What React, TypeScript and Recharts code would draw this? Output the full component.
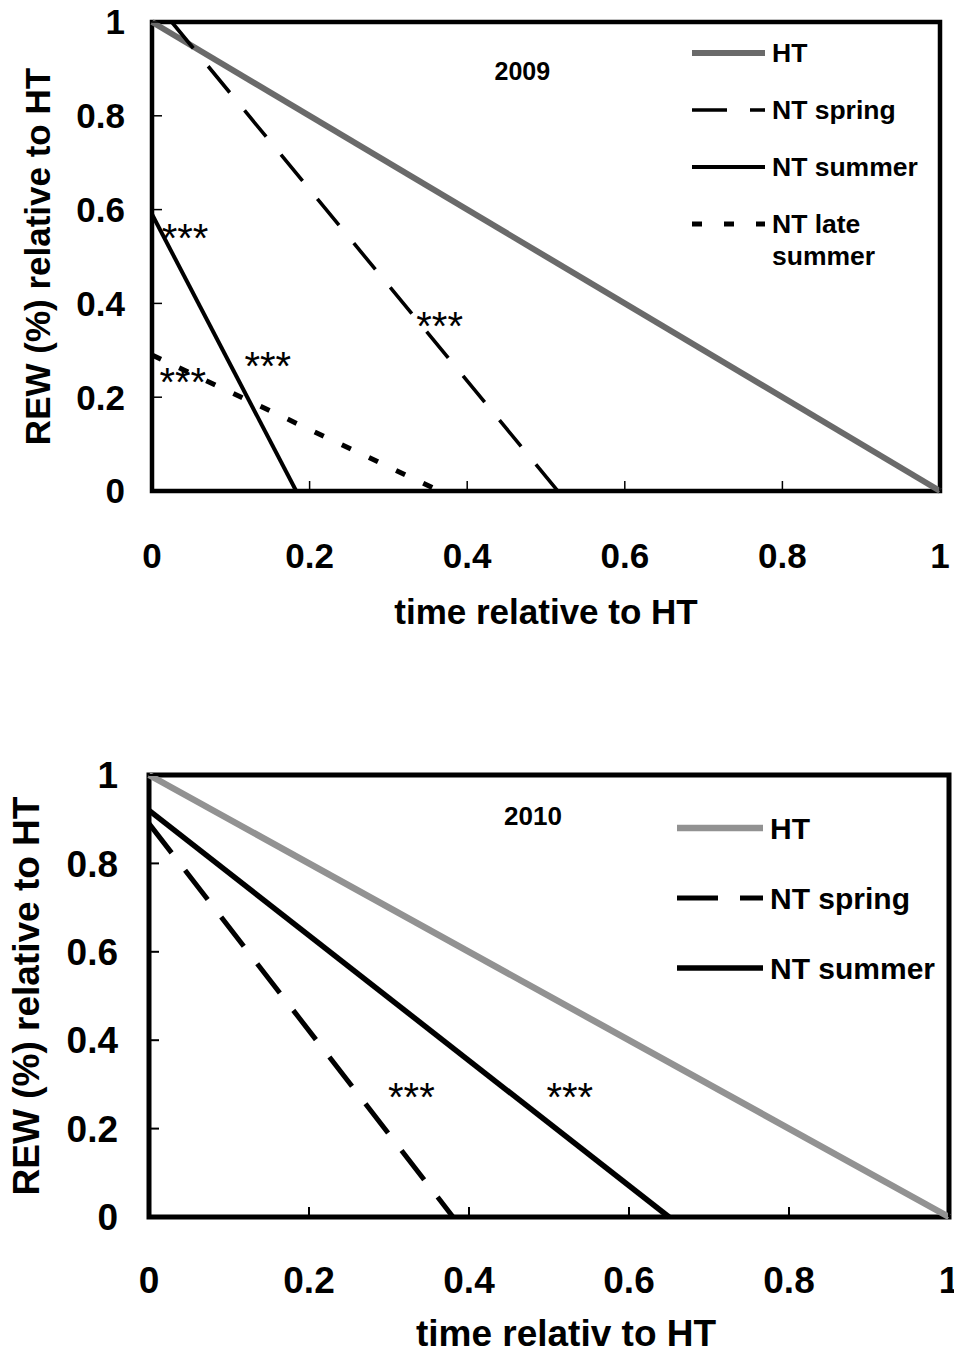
import React from "react";
import {
  LineChart,
  Line,
  XAxis,
  YAxis,
  Legend,
  ReferenceArea,
  ReferenceDot,
} from "recharts";

const FONT = "'Liberation Sans', Arial, Helvetica, sans-serif";

const xTicks = [0, 0.2, 0.4, 0.6, 0.8, 1];
const yTicks = [0, 0.2, 0.4, 0.6, 0.8, 1];

// 2009 panel
const ht2009 = [
  { t: 0, rew: 1 },
  { t: 1, rew: 0 },
];
const spring2009 = [
  { t: 0.025, rew: 1 },
  { t: 0.515, rew: 0 },
];
const summer2009 = [
  { t: 0, rew: 0.59 },
  { t: 0.183, rew: 0 },
];
const lateSummer2009 = [
  { t: 0, rew: 0.29 },
  { t: 0.365, rew: 0 },
];
const stars2009 = [
  { t: 0.042, rew: 0.559 },
  { t: 0.147, rew: 0.286 },
  { t: 0.365, rew: 0.371 },
  { t: 0.039, rew: 0.252 },
];

// 2010 panel
const ht2010 = [
  { t: 0, rew: 1 },
  { t: 1, rew: 0 },
];
const spring2010 = [
  { t: 0, rew: 0.89 },
  { t: 0.38, rew: 0 },
];
const summer2010 = [
  { t: 0, rew: 0.92 },
  { t: 0.65, rew: 0 },
];
const stars2010 = [
  { t: 0.328, rew: 0.292 },
  { t: 0.526, rew: 0.292 },
];

type Series = {
  name: string;
  label: string[];
  data: { t: number; rew: number }[];
  stroke: string;
  width: number;
  dash?: string;
  legendDash?: string;
};

const series2009: Series[] = [
  { name: "HT", label: ["HT"], data: ht2009, stroke: "#6a6a6a", width: 6 },
  {
    name: "NT spring",
    label: ["NT spring"],
    data: spring2009,
    stroke: "#000",
    width: 3.6,
    dash: "34 23.3",
    legendDash: "35 23",
  },
  { name: "NT summer", label: ["NT summer"], data: summer2009, stroke: "#000", width: 4 },
  {
    name: "NT late summer",
    label: ["NT late", "summer"],
    data: lateSummer2009,
    stroke: "#000",
    width: 5,
    dash: "10 20",
    legendDash: "10 22",
  },
];

const series2010: Series[] = [
  { name: "HT", label: ["HT"], data: ht2010, stroke: "#929292", width: 6.5 },
  {
    name: "NT spring",
    label: ["NT spring"],
    data: spring2010,
    stroke: "#000",
    width: 5,
    dash: "37 22",
    legendDash: "41 22",
  },
  { name: "NT summer", label: ["NT summer"], data: summer2010, stroke: "#000", width: 5.5 },
];

const makeLegend =
  (items: Series[], sampleW: number, pitch: number, fontSize: number) => () =>
    (
      <svg width={300} height={280} style={{ overflow: "visible" }}>
        {items.map((s, i) => {
          const y = 28 + i * pitch;
          return (
            <g key={s.name}>
              <line
                x1={0}
                x2={sampleW}
                y1={y}
                y2={y}
                stroke={s.stroke}
                strokeWidth={s.width}
                strokeDasharray={s.legendDash}
              />
              {s.label.map((l, j) => (
                <text
                  key={l}
                  x={sampleW + 7}
                  y={y + j * 32}
                  dominantBaseline="central"
                  fontSize={fontSize}
                  fontWeight="bold"
                  fontFamily={FONT}
                  fill="#000"
                >
                  {l}
                </text>
              ))}
            </g>
          );
        })}
      </svg>
    );

const starShape = (fontSize: number) => (props: any) =>
  (
    <text
      x={props.cx}
      y={props.cy + 0.23 * fontSize}
      textAnchor="middle"
      dominantBaseline="central"
      fontSize={fontSize}
      fontFamily={FONT}
      fill="#000"
    >
      ***
    </text>
  );

const yearShape = (text: string, fontSize: number) => (props: any) =>
  (
    <text
      x={props.cx}
      y={props.cy}
      textAnchor="middle"
      dominantBaseline="central"
      fontSize={fontSize}
      fontWeight="bold"
      fontFamily={FONT}
      fill="#000"
    >
      {text}
    </text>
  );

type PanelProps = {
  top: number;
  height: number;
  margin: { top: number; right: number; bottom: number; left: number };
  yAxisWidth: number;
  series: Series[];
  stars: { t: number; rew: number }[];
  starFont: number;
  year: string;
  yearFont: number;
  yearPos: { t: number; rew: number };
  xTitle: string;
  xTitleDx: number;
  xTitleDy: number;
  yTitleX: number;
  tickFont: number;
  titleFont: number;
  legendFont: number;
  legendPos: { left: number; top: number };
  legendSampleW: number;
  legendPitch: number;
  xTickMargin: number;
  yTickMargin: number;
  frameWidth: number;
  tickWidth: number;
};

const Panel = (p: PanelProps) => {
  const tickStyle = {
    fontSize: p.tickFont,
    fontWeight: "bold",
    fill: "#000",
    fontFamily: FONT,
  };
  return (
    <div style={{ position: "absolute", left: 0, top: p.top }}>
      <LineChart width={954} height={p.height} margin={p.margin}>
        <XAxis
          type="number"
          dataKey="t"
          domain={[0, 1]}
          ticks={xTicks}
          tickFormatter={(v) => String(v)}
          axisLine={false}
          tickSize={-10}
          tickMargin={p.xTickMargin}
          tickLine={{ stroke: "#000", strokeWidth: p.tickWidth }}
          tick={tickStyle}
          height={100}
          interval={0}
          label={{
            content: ({ viewBox }: any) => (
              <text
                x={viewBox.x + viewBox.width / 2 + p.xTitleDx}
                y={viewBox.y + p.xTitleDy}
                textAnchor="middle"
                fontSize={p.titleFont}
                fontWeight="bold"
                fontFamily={FONT}
                fill="#000"
              >
                {p.xTitle}
              </text>
            ),
          }}
        />
        <YAxis
          type="number"
          domain={[0, 1]}
          ticks={yTicks}
          tickFormatter={(v) => String(v)}
          axisLine={false}
          tickSize={-10}
          tickMargin={p.yTickMargin}
          tickLine={{ stroke: "#000", strokeWidth: p.tickWidth }}
          tick={tickStyle}
          width={p.yAxisWidth}
          interval={0}
          label={{
            content: ({ viewBox }: any) => (
              <text
                transform={`translate(${p.yTitleX}, ${viewBox.y + viewBox.height / 2}) rotate(-90)`}
                textAnchor="middle"
                dominantBaseline="central"
                fontSize={p.titleFont}
                fontWeight="bold"
                fontFamily={FONT}
                fill="#000"
              >
                REW (%) relative to HT
              </text>
            ),
          }}
        />
        <ReferenceArea
          x1={0}
          x2={1}
          y1={0}
          y2={1}
          fill="none"
          fillOpacity={0}
          stroke="#000"
          strokeWidth={p.frameWidth}
          ifOverflow="visible"
        />
        {p.series.map((s) => (
          <Line
            key={s.name}
            name={s.name}
            data={s.data}
            dataKey="rew"
            type="linear"
            stroke={s.stroke}
            strokeWidth={s.width}
            strokeDasharray={s.dash}
            dot={false}
            activeDot={false}
            isAnimationActive={false}
          />
        ))}
        {p.stars.map((s, i) => (
          <ReferenceDot
            key={i}
            x={s.t}
            y={s.rew}
            r={0}
            shape={starShape(p.starFont)}
            ifOverflow="visible"
          />
        ))}
        <ReferenceDot
          x={p.yearPos.t}
          y={p.yearPos.rew}
          r={0}
          shape={yearShape(p.year, p.yearFont)}
          ifOverflow="visible"
        />
        <Legend
          layout="vertical"
          align="center"
          verticalAlign="middle"
          wrapperStyle={{
            left: p.legendPos.left,
            top: p.legendPos.top,
            width: 260,
            height: 260,
          }}
          content={makeLegend(p.series, p.legendSampleW, p.legendPitch, p.legendFont)}
        />
      </LineChart>
    </div>
  );
};

export default function App() {
  return (
    <div
      style={{
        position: "absolute",
        left: 0,
        top: 0,
        width: 954,
        height: 1349,
        background: "#fff",
        overflow: "hidden",
      }}
    >
      <Panel
        top={0}
        height={650}
        margin={{ top: 22, right: 14, bottom: 59, left: 0 }}
        yAxisWidth={152}
        series={series2009}
        stars={stars2009}
        starFont={40}
        year="2009"
        yearFont={25}
        yearPos={{ t: 0.47, rew: 0.896 }}
        xTitle="time relative to HT"
        xTitleDx={0}
        xTitleDy={133}
        yTitleX={37}
        tickFont={35}
        titleFont={35}
        legendFont={26.5}
        legendPos={{ left: 692, top: 25 }}
        legendSampleW={73}
        legendPitch={57}
        xTickMargin={62}
        yTickMargin={37}
        frameWidth={4.5}
        tickWidth={1.5}
      />
      <Panel
        top={700}
        height={649}
        margin={{ top: 75, right: 5, bottom: 32, left: 0 }}
        yAxisWidth={149}
        series={series2010}
        stars={stars2010}
        starFont={40}
        year="2010"
        yearFont={26}
        yearPos={{ t: 0.48, rew: 0.907 }}
        xTitle="time relativ to HT"
        xTitleDx={17}
        xTitleDy={129}
        yTitleX={26}
        tickFont={37}
        titleFont={37}
        legendFont={30}
        legendPos={{ left: 677, top: 100 }}
        legendSampleW={86}
        legendPitch={70}
        xTickMargin={60}
        yTickMargin={41}
        frameWidth={5}
        tickWidth={2}
      />
    </div>
  );
}
